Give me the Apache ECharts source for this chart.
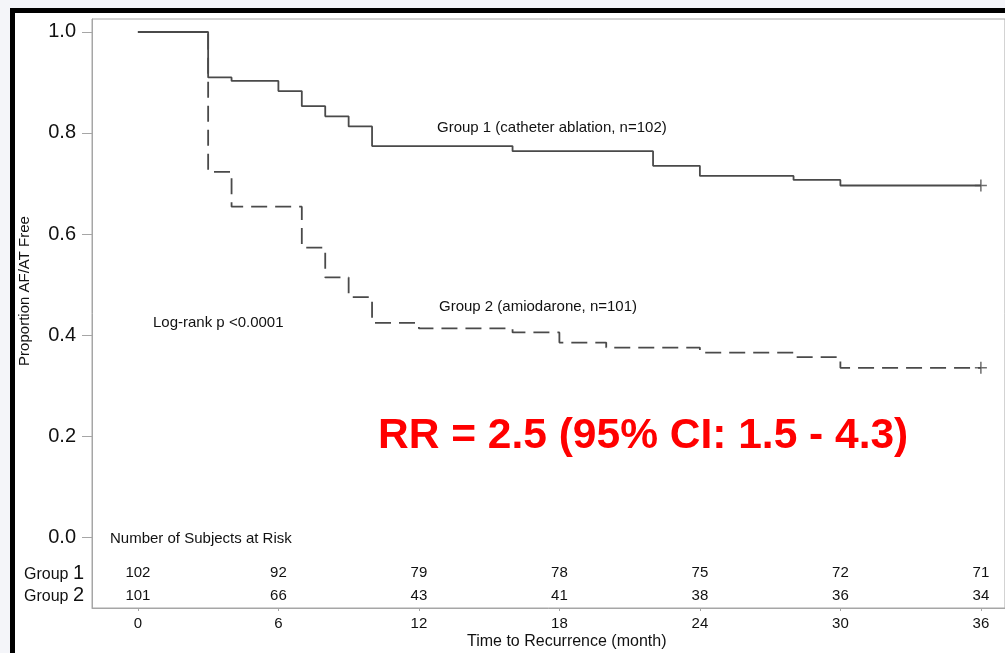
<!DOCTYPE html>
<html>
<head>
<meta charset="utf-8">
<script src="https://cdn.jsdelivr.net/npm/echarts@6/dist/echarts.min.js"></script>
<style>
  html, body { margin: 0; padding: 0; background: #f4f5f9; }
  #frame { position: absolute; left: 10px; top: 8px; width: 1100px; height: 700px;
           border-left: 5px solid #000; border-top: 5px solid #000; background: #fff; }
  #main { position: absolute; left: 0; top: 0; width: 1005px; height: 653px; }
</style>
</head>
<body>
<div id="frame"></div>
<div id="main"></div>
<script>
// Kaplan-Meier estimates (month, proportion free)
var group1Times = [0, 3, 4, 6, 7, 8, 9, 10, 16, 22, 24, 28, 30, 36];
var group1Surv  = [1.0, 0.910, 0.903, 0.883, 0.853, 0.833, 0.813, 0.774, 0.764, 0.735, 0.715, 0.707, 0.696, 0.696];
var group2Times = [0, 3, 4, 7, 8, 9, 10, 12, 16, 18, 20, 24, 28, 30, 36];
var group2Surv  = [1.0, 0.723, 0.654, 0.573, 0.514, 0.475, 0.424, 0.413, 0.405, 0.385, 0.375, 0.365, 0.356, 0.335, 0.335];

// number at risk table
var riskTimes  = [0, 6, 12, 18, 24, 30, 36];
var group1Risk = [102, 92, 79, 78, 75, 72, 71];
var group2Risk = [101, 66, 43, 41, 38, 36, 34];

var xTicks = [0, 6, 12, 18, 24, 30, 36];
var yTicks = [0, 0.2, 0.4, 0.6, 0.8, 1.0];

var FONT = 'Liberation Sans, Arial, sans-serif';
var LINE = '#4a4a4a';
var AXIS = '#a6a6a6';
var ROW1_Y = -0.071, ROW2_Y = -0.117; // rows of the risk table, below 0

function zip(a, b) {
	var out = [];
	for (var i = 0; i < a.length; i++) out.push([a[i], b[i]]);
	return out;
}
function riskData(vals, y) {
	var out = [];
	for (var i = 0; i < riskTimes.length; i++) out.push({ value: [riskTimes[i], y], n: vals[i] });
	return out;
}
function riskSeries(name, vals, y) {
	return {
		name: name, type: 'scatter', symbolSize: 1, silent: true,
		itemStyle: { color: '#fff', opacity: 0 },
		label: { show: true, position: 'inside', fontSize: 15, color: '#111',
			textBorderWidth: 0, opacity: 1,
			formatter: function (p) { return p.data.n; } },
		data: riskData(vals, y)
	};
}

var plusSym = 'path://M5.25,0 H6.75 V5.25 H12 V6.75 H6.75 V12 H5.25 V6.75 H0 V5.25 H5.25 Z';

var myChart = echarts.init(document.getElementById('main'));
myChart.setOption({
	animation: false,
	textStyle: { fontFamily: FONT },
	grid: {
		left: 92, top: 19, right: -2, bottom: 45,
		show: true, borderColor: AXIS, borderWidth: 1, backgroundColor: 'transparent'
	},
	xAxis: {
		type: 'value', min: -1.96, max: 37.03,
		splitLine: { show: false },
		axisLine: { onZero: false, lineStyle: { color: AXIS, width: 1 } },
		axisTick: { show: true, length: 3, customValues: xTicks, lineStyle: { color: AXIS } },
		axisLabel: { customValues: xTicks, fontSize: 15, color: '#111', margin: 8 }
	},
	yAxis: {
		type: 'value', min: -0.1406, max: 1.0257,
		splitLine: { show: false },
		axisLine: { show: true, onZero: false, lineStyle: { color: AXIS, width: 1 } },
		axisTick: { show: true, length: 10, customValues: yTicks, lineStyle: { color: AXIS } },
		axisLabel: {
			customValues: yTicks, fontSize: 20, color: '#111', margin: 16,
			formatter: function (v) { return v.toFixed(1); }
		}
	},
	series: [{
		name: 'Group 1', type: 'line', step: 'end', showSymbol: false,
		lineStyle: { color: LINE, width: 1.8 },
		data: zip(group1Times, group1Surv)
	}, {
		name: 'Group 2', type: 'line', step: 'end', showSymbol: false,
		lineStyle: { color: LINE, width: 1.8, type: [16, 8] },
		data: zip(group2Times, group2Surv)
	}, {
		name: 'censored', type: 'scatter', symbol: plusSym, symbolSize: 12,
		itemStyle: { color: LINE },
		data: [[36, group1Surv[group1Surv.length - 1]], [36, group2Surv[group2Surv.length - 1]]]
	},
		riskSeries('risk1', group1Risk, ROW1_Y),
		riskSeries('risk2', group2Risk, ROW2_Y)
	],
	graphic: [
		{ type: 'text', left: 437, top: 120, style: { text: 'Group 1 (catheter ablation, n=102)', font: '15px ' + FONT, fill: '#111' } },
		{ type: 'text', left: 439, top: 299, style: { text: 'Group 2 (amiodarone, n=101)', font: '15px ' + FONT, fill: '#111' } },
		{ type: 'text', left: 153, top: 315, style: { text: 'Log-rank p <0.0001', font: '15px ' + FONT, fill: '#111' } },
		{ type: 'text', left: 378, top: 415, style: { text: 'RR = 2.5 (95% CI: 1.5 - 4.3)', font: 'bold 42.5px ' + FONT, fill: '#ff0000' } },
		{ type: 'text', left: 110, top: 531, style: { text: 'Number of Subjects at Risk', font: '15px ' + FONT, fill: '#111' } },
		{ type: 'text', right: 1005 - 84, top: 563, style: {
			text: '{a|Group }{b|1}', fill: '#111',
			rich: { a: { fontSize: 16, fontFamily: FONT, fill: '#111', verticalAlign: 'bottom' },
			        b: { fontSize: 20, fontFamily: FONT, fill: '#111', verticalAlign: 'bottom' } } } },
		{ type: 'text', right: 1005 - 84, top: 585, style: {
			text: '{a|Group }{b|2}', fill: '#111',
			rich: { a: { fontSize: 16, fontFamily: FONT, fill: '#111', verticalAlign: 'bottom' },
			        b: { fontSize: 20, fontFamily: FONT, fill: '#111', verticalAlign: 'bottom' } } } },
		{ type: 'text', left: 467, top: 634, style: { text: 'Time to Recurrence (month)', font: '16px ' + FONT, fill: '#111' } },
		{ type: 'text', x: 25, y: 291, rotation: Math.PI / 2, style: {
			text: 'Proportion AF/AT Free', font: '15px ' + FONT, fill: '#111',
			align: 'center', verticalAlign: 'middle' } }
	]
});
</script>
</body>
</html>
